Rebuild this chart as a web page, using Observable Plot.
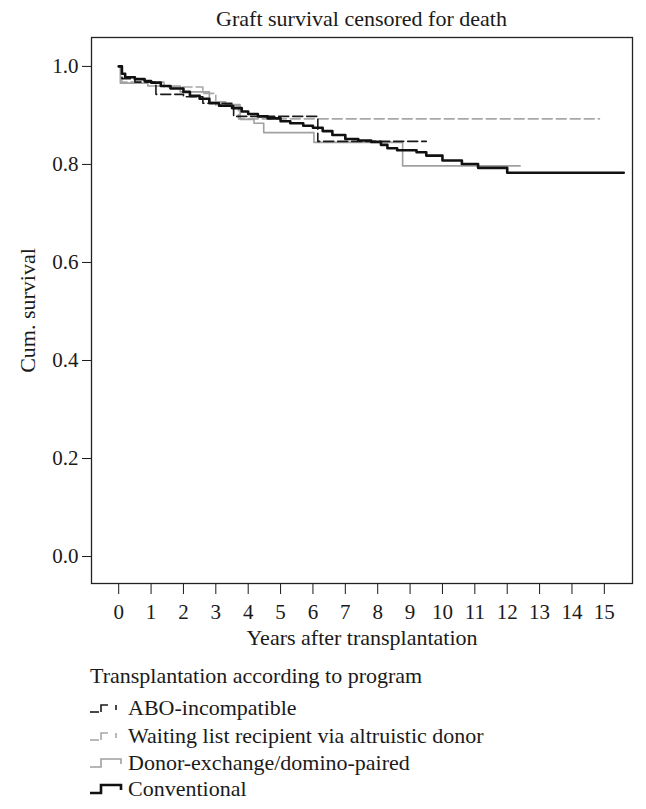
<!DOCTYPE html>
<html>
<head>
<meta charset="utf-8">
<script src="https://cdn.jsdelivr.net/npm/d3@7"></script>
<script src="https://cdn.jsdelivr.net/npm/@observablehq/plot@0.6"></script>
<style>
  body { margin: 0; background: #fff; }
  #wrap { position: relative; width: 646px; height: 809px; overflow: hidden; font-family: "Liberation Serif", "DejaVu Serif", serif; color: #1a1a1a; background: #fff; }
  #title { position: absolute; left: 91px; width: 541px; top: 0; height: 33px; line-height: 37px; text-align: center; font-size: 22px; }
  #chart { position: absolute; left: 0; top: 33px; }
  .legtitle { position: absolute; left: 90px; top: 662px; font-size: 22px; line-height: 28px; white-space: nowrap; }
  .row { position: absolute; left: 88px; font-size: 22px; line-height: 28px; height: 28px; }
  .row svg { position: absolute; left: 0; top: 8px; }
  .row span { position: absolute; left: 40px; top: 0; white-space: nowrap; }
</style>
</head>
<body>
<div id="wrap">
  <div id="title">Graft survival censored for death</div>
  <div id="chart"></div>
  <div id="legend"></div>
</div>
<script>
// ---- data ----
const groups = ["ABO-incompatible", "Waiting list recipient via altruistic donor", "Donor-exchange/domino-paired", "Conventional"];
const legendTitle = "Transplantation according to program";
const xTicks = [0,1,2,3,4,5,6,7,8,9,10,11,12,13,14,15];
const yTicks = [0, 0.2, 0.4, 0.6, 0.8, 1.0];

const aboT = [0, 0.1, 0.5, 1.15, 2.0, 2.6, 3.55, 6.15, 9.5];
const aboS = [1.0, 0.975, 0.968, 0.943, 0.938, 0.925, 0.898, 0.847, 0.847];

const waitT = [0, 0.1, 1.4, 2.6, 3.0, 3.7, 14.85];
const waitS = [1.0, 0.968, 0.958, 0.945, 0.92, 0.893, 0.893];

const donorT = [0, 0.05, 0.9, 1.9, 2.8, 3.3, 3.75, 4.18, 4.48, 6.03, 8.77, 12.4];
const donorS = [1.0, 0.966, 0.960, 0.948, 0.928, 0.922, 0.892, 0.884, 0.865, 0.845, 0.797, 0.797];

const convT = [0, 0.1, 0.2, 0.5, 0.8, 1.0, 1.3, 1.6, 2.0, 2.2, 2.5, 2.8, 3.1, 3.5, 3.8, 4.0, 4.3, 4.6, 5.0, 5.3, 5.7, 6.0, 6.3, 6.6, 7.0, 7.4, 7.8, 8.1, 8.3, 8.6, 9.2, 9.5, 10.0, 10.6, 11.1, 12.0, 15.6];
const convS = [1.0, 0.985, 0.978, 0.974, 0.970, 0.967, 0.960, 0.955, 0.948, 0.940, 0.934, 0.925, 0.920, 0.915, 0.908, 0.903, 0.898, 0.894, 0.888, 0.884, 0.879, 0.875, 0.868, 0.860, 0.852, 0.849, 0.846, 0.840, 0.833, 0.829, 0.825, 0.818, 0.808, 0.801, 0.793, 0.783, 0.783];

const toRows = (T, S) => T.map((t, i) => ({t, s: S[i]}));
const abo = toRows(aboT, aboS);
const wait = toRows(waitT, waitS);
const donor = toRows(donorT, donorS);
const conv = toRows(convT, convS);

const styles = {
  abo:   {stroke: "#1a1a1a", strokeWidth: 1.6, dash: "10,4"},
  wait:  {stroke: "#a8a8a8", strokeWidth: 1.6, dash: "10,4"},
  donor: {stroke: "#a0a0a0", strokeWidth: 1.6, dash: null},
  conv:  {stroke: "#111111", strokeWidth: 2.6, dash: null}
};

const lineMark = (data, st) => Plot.line(data, {
  x: "t", y: "s", curve: "step-after",
  stroke: st.stroke, strokeWidth: st.strokeWidth,
  strokeDasharray: st.dash || undefined
});

const chart = Plot.plot({
  width: 646,
  height: 622,
  marginTop: 4,
  marginBottom: 72,
  marginLeft: 91,
  marginRight: 14,
  x: {domain: [-0.84, 15.87]},
  y: {domain: [-0.055, 1.059]},
  style: {fontFamily: "'Liberation Serif', 'DejaVu Serif', serif", fontSize: "21px", color: "#1a1a1a", background: "transparent", overflow: "visible"},
  marks: [
    lineMark(wait, styles.wait),
    lineMark(donor, styles.donor),
    lineMark(abo, styles.abo),
    lineMark(conv, styles.conv),
    Plot.frame({stroke: "#222", strokeWidth: 1.3}),
    Plot.axisY({ticks: yTicks, tickFormat: d3.format(".1f"), tickSize: 9, tickPadding: 4, label: null, fontSize: 21}),
    Plot.axisX({ticks: xTicks, tickFormat: d => String(d), tickSize: 11, tickPadding: 10, label: null, fontSize: 21}),
    Plot.text(["Cum. survival"], {frameAnchor: "left", dx: -64, rotate: -90, textAnchor: "middle", fontSize: 22, text: d => d}),
    Plot.text(["Years after transplantation"], {frameAnchor: "bottom", dy: 61, fontSize: 22, text: d => d})
  ]
});
document.getElementById("chart").appendChild(chart);

// ---- legend ----
const legend = document.getElementById("legend");
const lt = document.createElement("div");
lt.className = "legtitle";
lt.textContent = legendTitle;
legend.appendChild(lt);

const symbols = [
  {st: styles.abo,   paths: ["M2,10 H11", "M13,10 V3 H20", "M28,3 V8"]},
  {st: styles.wait,  paths: ["M2,10 H11", "M13,10 V3 H20", "M28,3 V8"]},
  {st: styles.donor, paths: ["M2,10 H13 V2 H33 V7"]},
  {st: styles.conv,  paths: ["M2,10 H13 V2 H33 V7"]}
];
const rowTops = [694, 722, 749, 775];
groups.forEach((g, i) => {
  const row = document.createElement("div");
  row.className = "row";
  row.style.top = rowTops[i] + "px";
  const svg = d3.create("svg").attr("width", 36).attr("height", 14);
  symbols[i].paths.forEach(p => svg.append("path").attr("d", p).attr("fill", "none")
    .attr("stroke", symbols[i].st.stroke).attr("stroke-width", symbols[i].st.strokeWidth));
  row.appendChild(svg.node());
  const sp = document.createElement("span");
  sp.textContent = g;
  row.appendChild(sp);
  legend.appendChild(row);
});
</script>
</body>
</html>
